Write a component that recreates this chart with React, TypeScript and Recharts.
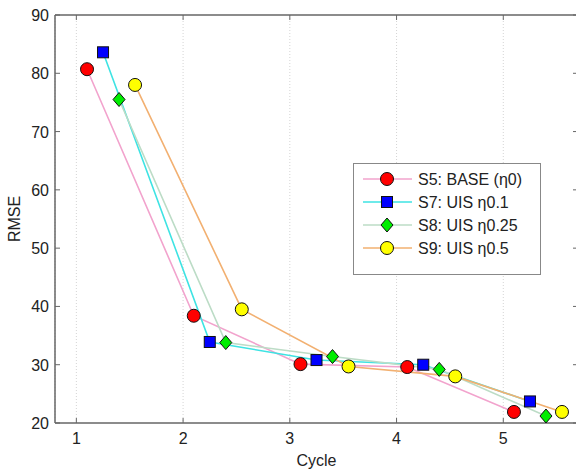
import { LineChart, Line, XAxis, YAxis, CartesianGrid, Legend, ReferenceLine } from 'recharts';

// RMSE per cycle for each scheme (x positions are staggered per scheme)
const cycleS5 = [1.1, 2.1, 3.1, 4.1, 5.1];
const rmseS5 = [80.7, 38.4, 30.1, 29.6, 21.9];
const cycleS7 = [1.25, 2.25, 3.25, 4.25, 5.25];
const rmseS7 = [83.6, 33.9, 30.8, 30.0, 23.7];
const cycleS8 = [1.4, 2.4, 3.4, 4.4, 5.4];
const rmseS8 = [75.5, 33.8, 31.4, 29.2, 21.2];
const cycleS9 = [1.55, 2.55, 3.55, 4.55, 5.55];
const rmseS9 = [78.0, 39.5, 29.7, 28.0, 21.9];

const xTicks = [1, 2, 3, 4, 5];
const yTicks = [20, 30, 40, 50, 60, 70, 80, 90];

const toPoints = (xs: number[], ys: number[]) => xs.map((x, i) => ({ x, y: ys[i] }));

type Shape = 'circle' | 'square' | 'diamond';

const series = [
  { name: 'S5: BASE (η0)', data: toPoints(cycleS5, rmseS5), line: '#f2a3cd', fill: '#ff0000', shape: 'circle' as Shape },
  { name: 'S7: UIS η0.1', data: toPoints(cycleS7, rmseS7), line: '#3ee3e3', fill: '#0000ff', shape: 'square' as Shape },
  { name: 'S8: UIS η0.25', data: toPoints(cycleS8, rmseS8), line: '#bcdcc6', fill: '#00ee00', shape: 'diamond' as Shape },
  { name: 'S9: UIS η0.5', data: toPoints(cycleS9, rmseS9), line: '#f2b071', fill: '#ffff00', shape: 'circle' as Shape },
];

const W = 590;
const H = 473;
const MARGIN = { top: 15, right: 12, bottom: 0, left: 0 };
const Y_AXIS_W = 55;
const X_AXIS_H = 50;
const PLOT_LEFT = MARGIN.left + Y_AXIS_W;
const PLOT_RIGHT = W - MARGIN.right;
const PLOT_TOP = MARGIN.top;
const PLOT_BOTTOM = H - MARGIN.bottom - X_AXIS_H;
const AXIS = '#666';
const TEXT = '#222';
const FONT = '"Liberation Sans", Arial, sans-serif';

function Marker({ cx, cy, shape, fill }: { cx: number; cy: number; shape: Shape; fill: string }) {
  if (shape === 'square') {
    return <rect x={cx - 5.5} y={cy - 5.5} width={11} height={11} fill={fill} stroke="#111" strokeWidth={1} />;
  }
  if (shape === 'diamond') {
    return (
      <polygon
        points={`${cx},${cy - 7} ${cx + 6},${cy} ${cx},${cy + 7} ${cx - 6},${cy}`}
        fill={fill}
        stroke="#111"
        strokeWidth={1}
      />
    );
  }
  return <circle cx={cx} cy={cy} r={6.5} fill={fill} stroke="#111" strokeWidth={1} />;
}

function XTick({ x, payload }: any) {
  return (
    <g>
      <line x1={x} x2={x} y1={PLOT_BOTTOM} y2={PLOT_BOTTOM - 5} stroke={AXIS} />
      <line x1={x} x2={x} y1={PLOT_TOP} y2={PLOT_TOP + 5} stroke={AXIS} />
      <text x={x} y={PLOT_BOTTOM + 21} textAnchor="middle" fontSize={16} fill={TEXT} fontFamily={FONT}>
        {payload.value}
      </text>
    </g>
  );
}

function YTick({ y, payload }: any) {
  return (
    <g>
      <line x1={PLOT_LEFT} x2={PLOT_LEFT + 5} y1={y} y2={y} stroke={AXIS} />
      <line x1={PLOT_RIGHT} x2={PLOT_RIGHT - 5} y1={y} y2={y} stroke={AXIS} />
      <text x={PLOT_LEFT - 6} y={y + 6} textAnchor="end" fontSize={16} fill={TEXT} fontFamily={FONT}>
        {payload.value}
      </text>
    </g>
  );
}

function LegendBox() {
  return (
    <svg width={188} height={112} style={{ display: 'block' }}>
      <rect x={0.5} y={0.5} width={187} height={111} fill="#fff" stroke="#888" />
      {series.map((s, i) => {
        const cy = 16 + i * 23;
        return (
          <g key={s.name}>
            <line x1={10} x2={59} y1={cy} y2={cy} stroke={s.line} strokeWidth={1.5} />
            <Marker cx={34} cy={cy} shape={s.shape} fill={s.fill} />
            <text x={65} y={cy + 6} fontSize={16} fill={TEXT} fontFamily={FONT}>
              {s.name}
            </text>
          </g>
        );
      })}
    </svg>
  );
}

export default function App() {
  return (
    <div style={{ position: 'fixed', left: 0, top: 0, width: 576, height: 473, overflow: 'hidden', background: '#fff' }}>
      <LineChart width={W} height={H} margin={MARGIN}>
        <CartesianGrid horizontal={false} stroke="#d4d4d4" strokeDasharray="1 2" />
        <XAxis
          type="number"
          dataKey="x"
          domain={[0.8, 5.7]}
          ticks={xTicks}
          allowDataOverflow
          height={X_AXIS_H}
          tickLine={false}
          tick={<XTick />}
          axisLine={{ stroke: AXIS, strokeWidth: 1.5 }}
          label={{ value: 'Cycle', position: 'insideBottom', offset: 7, fontSize: 16, fill: TEXT, fontFamily: FONT }}
        />
        <YAxis
          type="number"
          dataKey="y"
          domain={[20, 90]}
          ticks={yTicks}
          allowDataOverflow
          width={Y_AXIS_W}
          tickLine={false}
          tick={<YTick />}
          axisLine={{ stroke: AXIS, strokeWidth: 1.5 }}
          label={{
            value: 'RMSE',
            angle: -90,
            position: 'insideLeft',
            offset: 14,
            style: { textAnchor: 'middle', fontSize: 16, fill: TEXT, fontFamily: FONT },
          }}
        />
        <ReferenceLine y={90} stroke={AXIS} strokeWidth={1.5} />
        <ReferenceLine x={5.7} stroke={AXIS} strokeWidth={1.5} />
        {series.map((s) => (
          <Line
            key={s.name}
            data={s.data}
            dataKey="y"
            name={s.name}
            type="linear"
            stroke={s.line}
            strokeWidth={1.6}
            isAnimationActive={false}
            dot={(p: any) => <Marker key={`${s.name}-${p.index}`} cx={p.cx} cy={p.cy} shape={s.shape} fill={s.fill} />}
            activeDot={false}
          />
        ))}
        <Legend
          layout="horizontal"
          verticalAlign="middle"
          align="center"
          content={() => <LegendBox />}
          wrapperStyle={{ position: 'absolute', left: 353, top: 163, width: 188, height: 112 }}
        />
      </LineChart>
    </div>
  );
}
